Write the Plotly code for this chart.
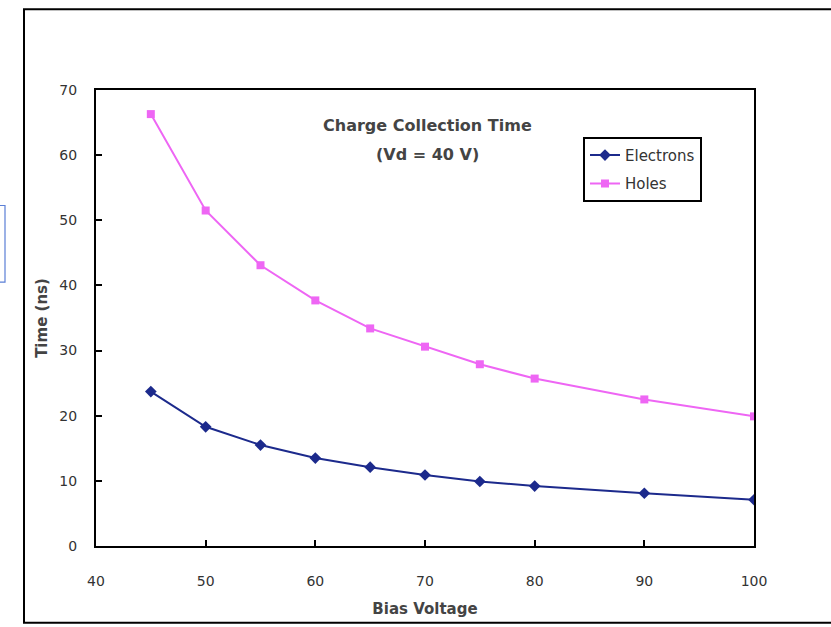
import plotly.graph_objects as go

bias_voltage = [45, 50, 55, 60, 65, 70, 75, 80, 90, 100]
electrons = [23.7, 18.3, 15.5, 13.5, 12.1, 10.9, 9.9, 9.2, 8.1, 7.1]
holes = [66.3, 51.5, 43.1, 37.7, 33.4, 30.6, 27.9, 25.7, 22.5, 19.9]

x_ticks = [40, 50, 60, 70, 80, 90, 100]
y_ticks = [0, 10, 20, 30, 40, 50, 60, 70]

FONT = "DejaVu Sans, Verdana, sans-serif"
W, H = 831, 627
L, R, T, B = 96, 754, 90, 548

fig = go.Figure()
fig.add_trace(go.Scatter(
    x=bias_voltage, y=electrons, name="Electrons", mode="lines+markers",
    line=dict(color="#1c2a8c", width=2),
    marker=dict(symbol="diamond", size=9, color="#1c2a8c"),
    legendgroup="e",
))
fig.add_trace(go.Scatter(
    x=bias_voltage, y=holes, name="Holes", mode="lines+markers",
    line=dict(color="#ee66f4", width=2),
    marker=dict(symbol="square", size=8, color="#ee66f4"),
    legendgroup="h",
))

pw = R - L
ph = B - T

def px(xp):
    return (xp - L) / pw

def py(yp):
    return (B - yp) / ph

fig.update_layout(
    width=W, height=H,
    margin=dict(l=L, r=W - R, t=T, b=H - B, pad=0),
    paper_bgcolor="white", plot_bgcolor="white",
    font=dict(family=FONT, color="#333333", size=14),
    showlegend=True,
    legend=dict(
        x=px(583), y=py(137), xanchor="left", yanchor="top",
        bordercolor="black", borderwidth=2, bgcolor="white",
        font=dict(family=FONT, size=15, color="#333333"),
        tracegroupgap=6, itemwidth=30,
    ),
    xaxis=dict(
        range=[40, 100], tickvals=x_ticks, ticktext=[str(v) for v in x_ticks],
        showgrid=False, zeroline=False, showline=True, linecolor="black", linewidth=2,
        mirror=True, ticks="inside", ticklen=6, tickcolor="black", tickwidth=1.5,
        ticklabelstandoff=21, tickfont=dict(family=FONT, size=14, color="#333333"),
        title=dict(text="<b>Bias Voltage</b>", font=dict(family=FONT, size=15, color="#444444"), standoff=16),
    ),
    yaxis=dict(
        range=[0, 70], tickvals=y_ticks, ticktext=[str(v) for v in y_ticks],
        showgrid=False, zeroline=False, showline=True, linecolor="black", linewidth=2,
        mirror=True, ticks="inside", ticklen=6, tickcolor="black", tickwidth=1.5,
        ticklabelstandoff=14, tickfont=dict(family=FONT, size=14, color="#333333"),
        title=dict(text="<b>Time (ns)</b>", font=dict(family=FONT, size=15, color="#444444"), standoff=8),
    ),
    annotations=[
        dict(text="<b>Charge Collection Time</b>", xref="paper", yref="paper",
             x=px(427), y=py(126), xanchor="center", yanchor="middle", showarrow=False,
             font=dict(family=FONT, size=16, color="#444444")),
        dict(text="<b>(Vd = 40 V)</b>", xref="paper", yref="paper",
             x=px(427), y=py(155), xanchor="center", yanchor="middle", showarrow=False,
             font=dict(family=FONT, size=16, color="#444444")),
    ],
    shapes=[
        dict(type="rect", xref="paper", yref="paper",
             x0=px(24), x1=px(845), y0=py(625), y1=py(9),
             line=dict(color="black", width=2), fillcolor="rgba(0,0,0,0)", layer="below"),
        dict(type="rect", xref="paper", yref="paper",
             x0=px(-5), x1=px(5), y0=py(283), y1=py(206),
             line=dict(color="#5b7fd6", width=1.2), fillcolor="rgba(0,0,0,0)", layer="below"),
    ],
)

fig.write_html("out.html", config={"displayModeBar": False},
               post_script="document.body.style.margin='0px';")
